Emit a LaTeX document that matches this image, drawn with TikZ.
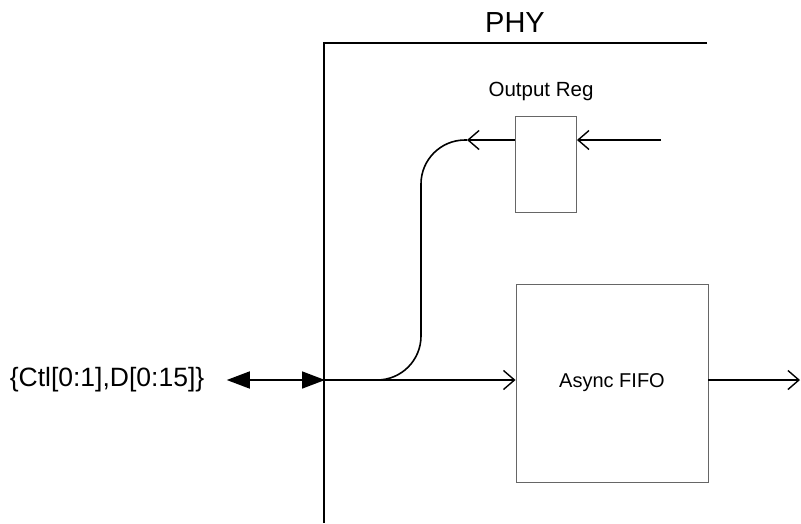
\documentclass[tikz,border=0pt]{standalone}
\usepackage{fontspec}
\setmainfont{Liberation Sans}
\usetikzlibrary{arrows.meta}

\tikzset{
  wire/.style={black, line width=1.6pt},
  barb/.style={wire, -{Straight Barb[length=11pt,width=19pt,line width=1.4pt]}},
  bidir/.style={wire, {Triangle[length=23pt,width=17pt]}-{Triangle[length=23pt,width=17pt]}},
  blk/.style={draw=black!60, line width=0.9pt, inner sep=0pt},
}

\begin{document}
\begin{tikzpicture}[x=1pt,y=-1pt]
                \useasboundingbox (0,0) rectangle (801,523);
                % PHY boundary
                \node[font=\fontsize{29}{30}\selectfont] (phy) at (515,23) {PHY};
                \draw[wire] (707,43) -- (324,43) -- (324,523);

                % Blocks
                \node[blk, minimum width=61pt, minimum height=96pt] (oreg) at (546,164) {};
                \node[font=\fontsize{20.5}{22}\selectfont] (oreglbl) at (541,91) {Output Reg};
                \node[blk, minimum width=192pt, minimum height=198pt,
                      font=\fontsize{20}{22}\selectfont] (fifo) at (612,383) {Async FIFO};

                % Wire end points
                \coordinate (pin) at (325,380);
                \coordinate (in) at (661,140);
                \coordinate (bend) at (467,140);
                \coordinate (out) at (800,380);

                % External bus
                \node[font=\fontsize{26.5}{28}\selectfont] (sig) at (107,380) {\{Ctl[0:1],D[0:15]\}};
                \draw[bidir] ([xshift=19pt]sig.east) -- (pin);

                % Data paths
                \draw[barb] (pin) -- (pin -| fifo.west);
                \draw[barb] (fifo.east |- out) -- (out);
                \draw[barb] (in) -- (in -| oreg.east);
                \draw[barb] (oreg.west |- bend) -- (bend);
                \draw[wire, rounded corners=44pt] (bend) -| (421,380) -- (pin);
            \end{tikzpicture}
\end{document}
